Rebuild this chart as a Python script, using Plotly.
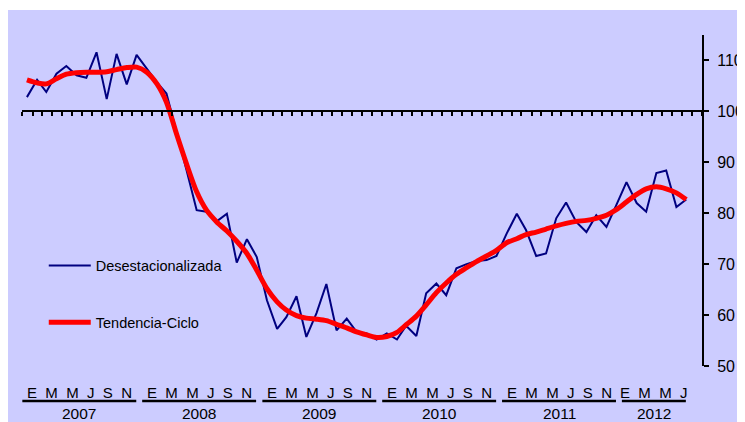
import datetime as dt
import plotly.graph_objects as go

# monthly series, Jan 2007 .. Jul 2012
start_year = 2007
desestacionalizada = [
    102.8, 106.2, 103.8, 107.4, 108.9, 107.1, 106.6, 111.6, 102.4, 111.3, 105.3, 111.1,
    108.4, 105.7, 103.5, 96.0, 88.5, 80.6, 80.3, 78.4, 79.9, 70.3, 74.9, 71.4,
    62.9, 57.3, 59.6, 63.7, 55.7, 60.4, 66.1, 57.0, 59.3, 56.7, 56.4, 55.2,
    56.4, 55.2, 57.9, 55.9, 64.3, 66.2, 63.9, 69.2, 70.0, 70.6, 70.8, 71.6,
    76.0, 79.9, 76.7, 71.6, 72.1, 79.0, 82.1, 78.3, 76.3, 79.6, 77.3, 81.6,
    86.1, 82.0, 80.3, 87.9, 88.4, 81.2, 82.7,
]
tendencia_ciclo = [
    106.2, 105.6, 105.4, 106.4, 107.3, 107.6, 107.7, 107.7, 107.8, 108.2, 108.6, 108.7,
    107.7, 105.4, 101.8, 95.5, 89.7, 84.2, 80.6, 78.3, 76.5, 74.5, 72.1, 68.8,
    65.2, 62.6, 61.0, 59.9, 59.4, 59.2, 58.9, 58.2, 57.5, 56.7, 56.1, 55.6,
    55.8, 56.6, 58.1, 59.8, 62.0, 64.4, 66.3, 68.0, 69.3, 70.5, 71.6, 72.7,
    74.2, 75.0, 75.8, 76.3, 76.9, 77.5, 78.0, 78.4, 78.6, 79.0, 79.6, 80.7,
    82.2, 83.7, 84.8, 85.2, 84.8, 84.0, 82.7,
]
mes_inicial = ["E", "F", "M", "A", "M", "J", "J", "A", "S", "O", "N", "D"]
y_ticks = [50, 60, 70, 80, 90, 100, 110]

n = len(desestacionalizada)
fechas = ["%d-%02d-15" % (start_year + i // 12, i % 12 + 1) for i in range(n)]

fig = go.Figure()
fig.add_trace(go.Scatter(x=fechas, y=desestacionalizada, name="Desestacionalizada",
                         mode="lines", legendgroup="a",
                         line=dict(color="#000080", width=2)))
fig.add_trace(go.Scatter(x=fechas, y=tendencia_ciclo, name="Tendencia-Ciclo",
                         mode="lines", legendgroup="b",
                         line=dict(color="#FF0000", width=5, shape="spline", smoothing=0.8)))

# year groups under the chart
sep = "\u00a0\u00a0"
mes = dt.timedelta(days=30.44)
end_year = start_year + (n - 1) // 12
for yr in range(start_year, end_year + 1):
    nmeses = min(12, n - (yr - start_year) * 12)
    letras = sep.join(mes_inicial[m] for m in range(0, nmeses, 2))
    ini = dt.datetime(yr, 1, 1)
    x1 = ini + mes * (nmeses - 0.6)
    mid = ini + mes * (nmeses / 2 - 0.3)
    fig.add_shape(type="line", xref="x", yref="paper", x0=ini, x1=x1, y0=-0.106, y1=-0.106,
                  line=dict(color="black", width=2.5))
    fig.add_annotation(x=mid, y=-0.079, xref="x", yref="paper", yanchor="middle",
                       text=letras, showarrow=False, font=dict(size=15, color="black"))
    fig.add_annotation(x=mid, y=-0.142, xref="x", yref="paper", yanchor="middle",
                       text=str(yr), showarrow=False, font=dict(size=15.5, color="black"))

# white strip at the top of the picture
fig.add_shape(type="rect", xref="paper", yref="paper", x0=-0.2, x1=1.2, y0=1.0755, y1=1.3,
              fillcolor="white", line_width=0, layer="below")

fig.update_layout(
    width=745, height=422,
    margin=dict(l=14, r=51, t=27, b=64, autoexpand=False),
    paper_bgcolor="#CCCCFF", plot_bgcolor="#CCCCFF",
    font=dict(family="Arial, Liberation Sans, sans-serif", color="black"),
    showlegend=True,
    legend=dict(x=0.032, y=0.352, xanchor="left", yanchor="top", bgcolor="rgba(0,0,0,0)",
                font=dict(size=14.5), tracegroupgap=35, itemwidth=42),
    xaxis=dict(type="date", range=["2006-12-31", "2012-09-01"], anchor="free",
               position=50 / 65, showline=True, linecolor="black", linewidth=2,
               ticks="outside", ticklen=4, tickwidth=1.5, tickcolor="black",
               dtick="M1", tick0="2007-01-01", showticklabels=False,
               showgrid=False, zeroline=False, automargin=False),
    yaxis=dict(range=[50, 115], side="right", showline=True, linecolor="black",
               linewidth=2, ticks="outside", ticklen=5, tickwidth=2, tickcolor="black",
               ticklabelstandoff=5, automargin=False,
               tickvals=y_ticks, tickfont=dict(size=16), showgrid=False, zeroline=False),
)

fig.write_html("out.html")
